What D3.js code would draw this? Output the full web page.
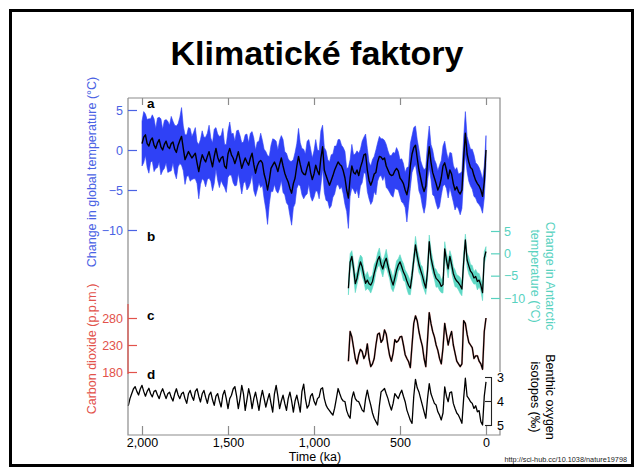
<!DOCTYPE html>
<html><head><meta charset="utf-8">
<script src="https://cdn.jsdelivr.net/npm/d3@7"></script>
<style>body{margin:0;background:#fff}svg{display:block}text{font-family:"Liberation Sans",Arial,Helvetica,sans-serif}</style>
</head><body><svg id="c" width="638" height="470"></svg>
<script>
const title = "Klimatické faktory";
const sourceText = "http://sci-hub.cc/10.1038/nature19798";
const xTicks = [2000, 1500, 1000, 500, 0];
const xTickLabels = ["2,000", "1,500", "1,000", "500", "0"];
const xTitle = "Time (ka)";
const stepKa = 10; // sample spacing, every series ends at 0 ka

// a: change in global temperature (°C), 2000 -> 0 ka
const globalTemp = [
 0.8,1.6,1.9,0.8,0.5,1.2,1.5,0.6,0.2,0.9,
 1.3,0.4,0.0,0.7,1.1,0.4,0.2,0.8,1.0,0.1,
 -0.3,0.6,1.2,1.7,0.2,-1.2,-0.7,-0.2,-0.6,-1.0,
 -0.7,-0.4,-1.6,-2.7,-1.5,-0.6,-1.1,-1.5,-0.8,-0.2,
 -1.2,-2.1,-0.8,0.2,-0.9,-1.5,-1.0,-0.8,-2.0,-2.3,
 -0.5,0.2,-0.6,-1.0,-1.7,-1.0,-0.2,-1.2,-2.3,-1.6,
 -1.0,-1.5,-1.9,-1.0,-0.4,-1.8,-2.9,-2.0,-1.5,-1.3,
 -1.6,-3.0,-3.8,-5.0,-3.8,-2.3,-1.9,-1.5,-2.0,-2.7,
 -1.8,-1.0,-2.0,-2.9,-3.5,-4.0,-4.8,-5.4,-4.2,-3.5,
 -2.0,-0.8,-1.8,-2.7,-3.0,-3.1,-2.2,-1.5,-2.8,-3.7,
 -3.0,-1.9,-2.6,-3.1,-1.0,0.4,-2.5,-3.2,-3.8,-4.4,
 -3.8,-3.2,-2.5,-2.0,-1.5,-1.8,-2.0,-2.6,-3.5,-5.0,
 -6.0,-3.5,-2.0,-2.8,-3.0,-2.5,-3.2,-2.2,-1.5,-0.6,
 -0.5,-2.5,-3.8,-4.4,-3.8,-3.0,-2.8,-1.5,-0.8,-0.9,
 -1.2,-1.0,-2.0,-2.5,-3.0,-3.2,-3.1,-2.6,-2.3,-2.6,
 -3.5,-3.8,-4.2,-5.0,-5.6,-4.5,-2.0,-0.5,0.3,0.6,
 -1.0,-2.5,-3.5,-4.5,-5.2,-4.5,-1.5,0.4,-1.5,-2.8,
 -3.5,-4.2,-5.0,-4.5,-3.5,-2.0,-1.6,-2.5,-3.6,-2.5,
 -3.0,-4.2,-5.0,-4.6,-5.2,-5.5,-5.0,-1.0,2.1,-0.5,
 -1.5,-2.2,-2.4,-3.2,-3.8,-4.2,-4.5,-5.0,-5.8,-4.0,
 0.0];
// half-width of the blue uncertainty band (°C)
const globalTempErr = [
 2.8,3.2,2.6,3.0,3.4,2.7,2.9,3.3,2.5,3.1,2.8,3.5,2.6,3.0,2.7,3.2,2.9,3.4,2.6,3.0,
 3.3,2.7,2.9,3.6,2.8,3.1,2.6,3.0,3.3,2.7,2.9,3.2,2.6,3.4,2.8,3.0,2.7,3.1,2.9,3.3,
 2.7,3.0,3.4,2.6,2.9,3.2,2.8,3.5,2.7,3.0,2.9,3.3,2.6,3.1,2.8,3.4,2.7,3.0,3.2,2.6,
 2.9,3.5,2.8,3.1,2.7,3.3,2.9,3.0,2.6,3.4,2.8,3.1,3.6,4.3,3.0,2.9,3.3,2.8,3.1,2.7,
 3.0,2.8,3.3,2.7,3.1,2.9,3.4,4.0,3.0,3.2,2.8,3.5,2.7,2.9,3.1,2.6,3.3,2.8,3.0,2.7,
 2.9,3.2,2.6,3.0,3.4,2.7,2.8,3.1,2.6,2.9,3.2,2.7,3.0,2.5,2.8,3.1,2.6,2.9,3.3,2.7,
 3.8,2.3,2.7,2.2,2.5,2.4,2.8,2.3,2.6,2.2,2.5,2.7,2.3,2.4,2.6,2.2,2.8,2.4,2.5,2.3,
 2.6,2.2,2.7,2.4,2.3,2.5,2.8,2.2,2.6,2.4,2.3,2.7,2.5,2.2,3.4,2.4,2.8,2.3,2.5,2.4,
 2.3,2.6,2.2,2.5,2.7,2.3,2.4,2.6,2.2,2.8,2.3,2.5,2.4,2.6,2.2,2.5,2.7,2.3,2.4,2.2,
 2.6,2.3,2.5,2.4,2.2,2.6,2.3,2.5,2.7,2.2,2.4,2.3,2.5,2.6,2.2,2.4,2.3,2.2,2.1,2.0,
 1.8];
const tempTicks = [5, 0, -5, -10];
const tempTickLabels = ["5", "0", "\u22125", "\u221210"];

// b: change in Antarctic temperature (°C), 800 -> 0 ka
const antTemp = [
 -7.8,-2.0,-0.7,-3.4,-6.8,-5.6,-3.5,-1.9,-3.0,-5.0,
 -6.7,-6.0,-6.8,-7.1,-6.3,-4.5,-3.0,-1.5,-0.7,-2.5,
 -3.5,-2.0,-1.1,-2.8,-4.5,-6.0,-7.1,-5.5,-3.8,-2.6,
 -1.9,-3.0,-4.2,-5.0,-6.2,-7.2,-7.8,-5.0,-1.5,1.9,
 -0.5,-2.5,-3.8,-5.0,-6.5,-7.8,-4.0,2.6,-1.0,-2.8,
 -4.5,-5.6,-6.0,-6.5,-7.4,-7.0,1.0,-1.5,-3.5,-0.7,
 -2.5,-4.5,-5.6,-6.2,-6.6,-7.2,-8.0,-2.0,3.0,-1.5,
 -2.8,-4.0,-4.5,-5.5,-5.2,-6.3,-6.0,-7.1,-8.8,-1.0,
 0.4];
const antTempErr = [
 1.5,1.9,1.3,1.6,2.0,1.4,1.8,1.5,2.1,1.3,
 1.6,1.9,1.4,1.8,1.5,2.0,1.3,1.6,1.9,1.5,
 1.8,1.4,2.0,1.6,1.3,1.9,1.5,1.8,2.1,1.4,
 1.6,1.5,1.9,1.3,1.8,2.0,1.5,1.6,1.4,1.9,
 1.5,1.8,1.3,2.0,1.6,1.4,1.9,1.5,1.8,1.6,
 1.3,2.0,1.5,1.8,1.4,1.9,1.6,1.5,2.0,1.3,
 1.8,1.5,1.9,1.4,1.6,1.8,1.5,2.0,1.3,1.6,
 1.9,1.5,1.8,1.4,1.6,1.9,1.5,1.3,1.8,1.4,
 1.1];
const antTicks = [5, 0, -5, -10];
const antTickLabels = ["5", "0", "\u22125", "\u221210"];

// c: carbon dioxide (p.p.m.), 800 -> 0 ka
const co2 = [
 200,255,245,225,205,195,212,222,218,205,
 212,232,205,190,195,205,230,250,252,235,
 240,258,250,228,210,200,215,240,235,238,
 245,246,230,212,205,199,188,230,270,284,
 275,255,240,228,205,190,240,290,270,255,
 245,230,220,205,195,225,270,250,230,245,
 255,230,215,200,195,190,195,275,270,250,
 235,230,225,205,210,210,200,195,185,255,
 280];
const co2Ticks = [280, 230, 180];

// d: benthic oxygen isotopes (‰), 2080 -> 0 ka
const benthic = [
 4.2,3.9,3.7,3.5,3.4,3.6,3.75,3.5,3.35,3.6,
 3.8,3.6,3.47,3.7,3.83,3.6,3.56,3.75,3.9,3.65,
 3.49,3.7,3.9,3.7,3.63,3.85,4.0,3.7,3.49,3.75,
 3.9,3.7,3.63,3.9,4.1,3.7,3.56,3.8,3.97,3.6,
 3.49,3.8,4.04,3.7,3.56,3.85,4.1,3.75,3.63,3.95,
 4.18,3.8,3.69,4.0,4.25,3.75,3.56,3.9,4.32,3.9,
 3.76,3.5,3.4,3.8,4.32,3.9,3.35,3.7,4.39,3.95,
 3.49,3.8,4.32,3.9,3.63,4.0,4.39,3.9,3.56,3.9,
 4.25,3.95,3.69,4.1,4.46,3.7,3.35,3.8,4.32,4.0,
 3.76,4.1,4.39,3.9,3.63,4.0,4.46,4.0,3.76,4.1,
 4.46,3.6,3.3,3.9,4.3,4.17,3.8,3.69,4.0,4.17,
 3.9,3.83,3.5,3.45,3.9,4.17,4.31,4.4,4.5,4.59,
 4.3,3.9,3.48,3.7,3.9,4.0,4.03,4.4,4.6,4.72,
 3.9,3.62,3.9,4.0,4.03,4.2,4.38,4.45,3.9,3.55,
 3.9,4.17,4.5,4.72,4.86,5.0,4.2,3.62,3.55,3.48,
 3.7,3.9,4.17,4.38,4.1,3.69,3.8,3.9,3.7,3.55,
 3.8,4.03,4.38,4.59,4.8,4.93,3.8,3.1,3.45,3.62,
 3.9,4.17,4.45,4.72,3.9,3.28,3.7,3.9,4.1,4.17,
 4.45,4.59,4.79,4.5,3.41,3.8,4.03,3.65,3.62,4.1,
 4.31,4.5,4.59,4.75,4.93,3.9,3.05,3.8,3.9,4.03,
 4.1,4.31,4.2,4.45,4.4,4.86,5.0,3.8,3.2];
const benthicTicks = [3, 4, 5];

// ---------- drawing ----------
const blueBand = "#2f41f6", blueText = "#4a62e4";
const cyanBand = "#5dd8c4", cyanText = "#58d2bf";
const redC = "#e2524b", frameC = "#8c8c8c";
const fontFam = '"Liberation Sans",Arial,sans-serif';

const svg = d3.select("#c");
svg.append("rect").attr("x", 10.5).attr("y", 10.5).attr("width", 622).attr("height", 455)
  .attr("fill", "none").attr("stroke", "#000").attr("stroke-width", 3);

svg.append("text").attr("x", 317).attr("y", 65).attr("text-anchor", "middle")
  .attr("font-size", 34).attr("font-weight", "bold").text(title);

const x = d3.scaleLinear().domain([2000, 0]).range([142, 486]);
const yA = d3.scaleLinear().domain([5, -10]).range([110, 230]);
const yB = d3.scaleLinear().domain([5, -10]).range([231, 298]);
const yC = d3.scaleLinear().domain([280, 180]).range([318, 372]);
const yD = d3.scaleLinear().domain([3, 5]).range([377, 425]);

const age = (arr, i) => (arr.length - 1 - i) * stepKa;

function band(arr, err, y, color) {
  const area = d3.area()
    .x((d, i) => x(age(arr, i)))
    .y0((d, i) => y(d - err[i]))
    .y1((d, i) => y(d + err[i]));
  svg.append("path").datum(arr).attr("d", area).attr("fill", color).attr("stroke", color).attr("stroke-width", 0.6);
}
function line(arr, y, color, w, op) {
  const ln = d3.line().x((d, i) => x(age(arr, i))).y(d => y(d));
  svg.append("path").datum(arr).attr("d", ln).attr("fill", "none")
    .attr("stroke", color).attr("stroke-width", w).attr("stroke-linejoin", "round")
    .attr("opacity", op || 1);
}

band(globalTemp, globalTempErr, yA, blueBand);
line(globalTemp, yA, "#000", 1.4);
band(antTemp, antTempErr, yB, cyanBand);
line(antTemp, yB, "#000", 1.3);
line(co2, yC, redC, 1.9, 0.5);
line(co2, yC, "#000", 1.3);
line(benthic, yD, "#000", 1.3);

// frame
svg.append("path").attr("d", "M128,98H500V372M500,428V435H128V98")
  .attr("fill", "none").attr("stroke", frameC).attr("stroke-width", 1.2);

// top and bottom x ticks
const topAx = svg.append("g").attr("transform", "translate(0,98)")
  .call(d3.axisTop(x).tickValues(xTicks).tickSize(-7).tickFormat(""));
topAx.select(".domain").remove();
topAx.selectAll("line").attr("stroke", frameC).attr("stroke-width", 1.2);

const botAx = svg.append("g").attr("transform", "translate(0,435)")
  .call(d3.axisBottom(x).tickValues(xTicks).tickSize(-9).tickPadding(3)
    .tickFormat((d, i) => xTickLabels[i]));
botAx.select(".domain").remove();
botAx.selectAll("line").attr("stroke", frameC).attr("stroke-width", 1.2);
botAx.selectAll("text").attr("font-size", 12.5).attr("fill", "#000").attr("font-family", fontFam);

svg.append("text").attr("x", 315).attr("y", 461).attr("text-anchor", "middle")
  .attr("font-size", 12.5).text(xTitle);

function styleAxis(g, color) {
  g.select(".domain").remove();
  g.selectAll("line").attr("stroke", color).attr("stroke-width", 1.2);
  g.selectAll("text").attr("fill", color).attr("font-size", 12.5).attr("font-family", fontFam);
}

// a axis (left, blue)
const axA = svg.append("g").attr("transform", "translate(128,0)")
  .call(d3.axisLeft(yA).tickValues(tempTicks).tickSize(-9).tickPadding(5)
    .tickFormat((d, i) => tempTickLabels[i]));
styleAxis(axA, blueText);

// b axis (right, cyan)
const axB = svg.append("g").attr("transform", "translate(500,0)")
  .call(d3.axisRight(yB).tickValues(antTicks).tickSize(-9).tickPadding(4)
    .tickFormat((d, i) => antTickLabels[i]));
styleAxis(axB, cyanText);

// c axis (left, red)
svg.append("line").attr("x1", 128).attr("x2", 128).attr("y1", 304).attr("y2", 374)
  .attr("stroke", redC).attr("stroke-width", 1.2);
const axC = svg.append("g").attr("transform", "translate(128,0)")
  .call(d3.axisLeft(yC).tickValues(co2Ticks).tickSize(-9).tickPadding(5));
styleAxis(axC, redC);

// d axis (right, black bracket)
const axD = svg.append("g").attr("transform", "translate(491,0)")
  .call(d3.axisRight(yD).tickValues(benthicTicks).tickSize(-6).tickSizeOuter(-6).tickPadding(6)
    .tickFormat(d3.format("d")));
axD.select(".domain").attr("stroke", "#222").attr("stroke-width", 1.1);
axD.selectAll("line").attr("stroke", "#222").attr("stroke-width", 1.1);
axD.selectAll("text").attr("fill", "#000").attr("font-size", 12.5).attr("font-family", fontFam);

// axis titles
svg.append("text").attr("transform", "translate(96,172) rotate(-90)").attr("text-anchor", "middle")
  .attr("font-size", 12.5).attr("fill", blueText).text("Change in global temperature (\u00B0C)");
svg.append("text").attr("transform", "translate(96,349) rotate(-90)").attr("text-anchor", "middle")
  .attr("font-size", 12.5).attr("fill", redC).text("Carbon dioxide (p.p.m.)");
const tB = svg.append("text").attr("transform", "translate(546,276) rotate(90)").attr("text-anchor", "middle")
  .attr("font-size", 12.5).attr("fill", cyanText);
tB.append("tspan").attr("x", 0).attr("y", 0).text("Change in Antarctic");
tB.append("tspan").attr("x", 0).attr("y", 15).text("temperature (\u00B0C)");
const tD = svg.append("text").attr("transform", "translate(546,397) rotate(90)").attr("text-anchor", "middle")
  .attr("font-size", 12.5).attr("fill", "#000");
tD.append("tspan").attr("x", 0).attr("y", 0).text("Benthic oxygen");
tD.append("tspan").attr("x", 0).attr("y", 15).text("isotopes (\u2030)");

// panel letters
[["a", 108], ["b", 241], ["c", 320], ["d", 379]].forEach(([t, yy]) => {
  svg.append("text").attr("x", 147).attr("y", yy).attr("font-size", 13.5)
    .attr("font-weight", "bold").text(t);
});

svg.append("text").attr("x", 627).attr("y", 462).attr("text-anchor", "end")
  .attr("font-size", 7.3).attr("fill", "#222").text(sourceText);
</script></body></html>
